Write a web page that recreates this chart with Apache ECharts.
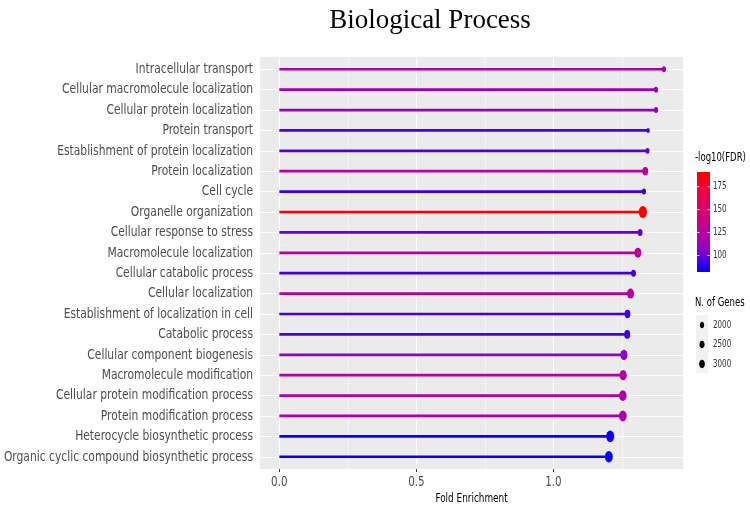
<!DOCTYPE html>
<html>
<head>
<meta charset="utf-8">
<script src="https://cdn.jsdelivr.net/npm/echarts@6/dist/echarts.min.js"></script>
<style>
html, body { margin: 0; background: #fff; }
#main { width: 750px; height: 512px; }
</style>
</head>
<body>
<div id="main"></div>
<script>
// GO terms, top to bottom
var terms = [
    'Intracellular transport',
    'Cellular macromolecule localization',
    'Cellular protein localization',
    'Protein transport',
    'Establishment of protein localization',
    'Protein localization',
    'Cell cycle',
    'Organelle organization',
    'Cellular response to stress',
    'Macromolecule localization',
    'Cellular catabolic process',
    'Cellular localization',
    'Establishment of localization in cell',
    'Catabolic process',
    'Cellular component biogenesis',
    'Macromolecule modification',
    'Cellular protein modification process',
    'Protein modification process',
    'Heterocycle biosynthetic process',
    'Organic cyclic compound biosynthetic process'
];
var foldEnrichment = [1.403, 1.374, 1.374, 1.345, 1.343, 1.335, 1.330, 1.326, 1.316, 1.308,
                      1.292, 1.281, 1.270, 1.269, 1.257, 1.254, 1.253, 1.253, 1.207, 1.202];
var logFDR = [117, 110, 110, 95, 97, 125, 92, 190, 100, 125,
              93, 127, 93, 94, 108, 125, 122, 120, 84, 83];
var geneCount = [1850, 1850, 1850, 1350, 1700, 3000, 1850, 4850, 2350, 3850,
                 2350, 3850, 3000, 3200, 4000, 4000, 4200, 4350, 4700, 4500];

var xTicks = [0, 0.5, 1.0];
var xMinorTicks = [0.25, 0.75, 1.25];
var fdrTicks = [100, 125, 150, 175];
var geneTicks = [2000, 2500, 3000];
var fdrMin = 82, fdrMax = 191;

var gradColors = ['#0000FF', '#9A00C2', '#CA0088', '#E8004F', '#FF0000'];
var sans = "'DejaVu Sans', sans-serif";
var squeeze = 0.74;   // the original text is a condensed face

function dotSize(g) {
    return 6.3 + 0.002 * (g - 2000);
}

var rows = [];
var segData = [];
var dotData = [];
for (var i = 0; i < terms.length; i++) {
    rows.push(i + 1);
    segData.push([foldEnrichment[i], i + 1, logFDR[i]]);
    dotData.push([foldEnrichment[i], i + 1, logFDR[i], geneCount[i]]);
}

var gridLines = [];
xTicks.forEach(function (v) {
    gridLines.push({xAxis: v, lineStyle: {color: '#fff', width: 1.1, type: 'solid'}});
});
xMinorTicks.forEach(function (v) {
    gridLines.push({xAxis: v, lineStyle: {color: '#fff', width: 0.5, type: 'solid'}});
});
rows.forEach(function (v) {
    gridLines.push({yAxis: v, lineStyle: {color: '#fff', width: 1.1, type: 'solid'}});
});

function txt(x, y, s, size, color, align, sx) {
    return {type: 'text', x: x, y: y, scaleX: sx || squeeze, z: 10,
        style: {text: s, font: size + 'px ' + sans, fill: color, align: align, verticalAlign: 'middle'}};
}

var chart = echarts.init(document.getElementById('main'));
var option = {
    animation: false,
    grid: {
        left: 260, top: 57, width: 423, height: 412,
        show: true, backgroundColor: '#EBEBEB', borderWidth: 0,
        outerBoundsMode: 'none'
    },
    visualMap: {
        type: 'continuous',
        show: false,
        min: fdrMin, max: fdrMax,
        dimension: 2,
        seriesIndex: [1, 2],
        inRange: {color: gradColors}
    },
    xAxis: {
        type: 'value',
        min: -0.0705, max: 1.4725,
        axisLine: {show: false},
        axisTick: {show: true, customValues: xTicks, length: 3, lineStyle: {color: '#333'}},
        axisLabel: {show: false},
        splitLine: {show: false}
    },
    yAxis: {
        type: 'value',
        inverse: true,
        min: 0.4, max: 20.6,
        axisLine: {show: false},
        axisTick: {show: true, customValues: rows, length: 3, lineStyle: {color: '#333'}},
        axisLabel: {show: false},
        splitLine: {show: false}
    },
    series: [
        {
            type: 'line',
            data: [],
            z: 1,
            silent: true,
            markLine: {z: 1, silent: true, symbol: 'none', label: {show: false}, animation: false, data: gridLines}
        },
        {
            type: 'custom',
            z: 2,
            data: segData,
            encode: {x: 0, y: 1},
            renderItem: function (params, api) {
                var y = api.value(1);
                var p0 = api.coord([0, y]);
                var p1 = api.coord([api.value(0), y]);
                return {
                    type: 'line',
                    shape: {x1: p0[0], y1: p0[1], x2: p1[0], y2: p1[1]},
                    style: {stroke: api.visual('color'), lineWidth: 2.7}
                };
            }
        },
        {
            type: 'scatter',
            z: 3,
            data: dotData,
            symbol: 'circle',
            symbolSize: function (d) {
                var s = dotSize(d[3]);
                return [s * 0.7, s];
            },
            itemStyle: {opacity: 1}
        }
    ]
};
chart.setOption(option);

// axis texts in the condensed look, placed through the axes' own scales
var g = [];
var gridBottom = 57 + 412;
rows.forEach(function (v) {
    var py = chart.convertToPixel({yAxisIndex: 0}, v);
    g.push(txt(253, py, terms[v - 1], 14.5, '#4D4D4D', 'right'));
});
xTicks.forEach(function (v) {
    var px = chart.convertToPixel({xAxisIndex: 0}, v);
    g.push(txt(px, gridBottom + 13, v.toFixed(1), 14, '#4D4D4D', 'center'));
});
g.push(txt(260 + 423 / 2, 499, 'Fold Enrichment', 12, '#000', 'center'));

// title
g.push({type: 'text', x: 430, y: 21, z: 10, style: {text: 'Biological Process',
    font: "27px 'Liberation Serif', 'DejaVu Serif', serif", fill: '#000', align: 'center', verticalAlign: 'middle'}});

// colour bar legend
var barX = 697, barY = 172, barW = 13, barH = 100;
function fdrY(v) {
    return barY + barH - (v - fdrMin) / (fdrMax - fdrMin) * barH;
}
g.push(txt(695, 158, '-log10(FDR)', 11.5, '#000', 'left'));
g.push({type: 'rect', shape: {x: barX, y: barY, width: barW, height: barH},
    style: {fill: new echarts.graphic.LinearGradient(0, 0, 0, 1, [
        {offset: 0, color: gradColors[4]},
        {offset: 0.25, color: gradColors[3]},
        {offset: 0.5, color: gradColors[2]},
        {offset: 0.75, color: gradColors[1]},
        {offset: 1, color: gradColors[0]}
    ])}});
fdrTicks.forEach(function (v) {
    var y = fdrY(v);
    g.push({type: 'line', shape: {x1: barX, y1: y, x2: barX + 2.6, y2: y}, style: {stroke: '#fff', lineWidth: 0.8}});
    g.push({type: 'line', shape: {x1: barX + barW - 2.6, y1: y, x2: barX + barW, y2: y}, style: {stroke: '#fff', lineWidth: 0.8}});
    g.push(txt(713, y, String(v), 10.5, '#333', 'left', 0.68));
});

// size legend
g.push(txt(695, 303, 'N. of Genes', 11.5, '#000', 'left'));
g.push({type: 'rect', shape: {x: 696, y: 315, width: 12, height: 58}, style: {fill: '#F2F2F2'}});
geneTicks.forEach(function (n, k) {
    var y = 325 + k * 19.5;
    var s = dotSize(n);
    g.push({type: 'ellipse', shape: {cx: 702, cy: y, rx: s * 0.35, ry: s / 2}, style: {fill: '#000'}});
    g.push(txt(713, y, String(n), 10.5, '#333', 'left', 0.68));
});

chart.setOption({graphic: g});
</script>
</body>
</html>
